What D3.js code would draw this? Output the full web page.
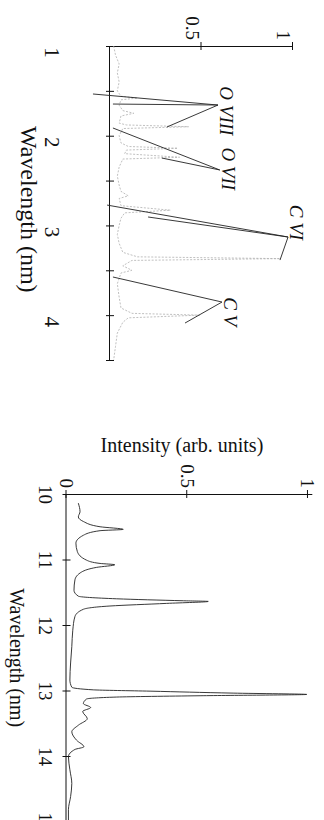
<!DOCTYPE html>
<html>
<head>
<meta charset="utf-8">
<script src="https://cdn.jsdelivr.net/npm/d3@7/dist/d3.min.js"></script>
<style>
  body { margin: 0; background: #fff; }
  svg { display: block; }
  text { font-family: "Liberation Serif", "Times New Roman", serif; fill: #111; }
</style>
</head>
<body>
<svg id="fig" width="324" height="820"></svg>
<script>
// ---- top panel: 1 - 4.5 nm spectrum ----
const softWl  = [1.00,1.10,1.20,1.30,1.40,1.50,1.56,1.58,1.60,1.66,1.72,1.75,1.78,1.86,1.88,1.90,1.92,2.00,2.08,2.12,2.14,2.16,2.20,2.24,2.26,2.35,2.45,2.55,2.62,2.67,2.70,2.78,2.83,2.86,2.92,3.00,3.10,3.20,3.30,3.35,3.37,3.39,3.45,3.50,3.53,3.65,3.80,3.92,3.98,4.00,4.03,4.08,4.20,4.35,4.50];
const softInt = [0.02,0.03,0.05,0.04,0.05,0.04,0.06,0.15,0.06,0.05,0.07,0.13,0.06,0.05,0.09,0.43,0.07,0.05,0.06,0.10,0.37,0.09,0.08,0.38,0.07,0.05,0.04,0.05,0.06,0.10,0.05,0.06,0.33,0.08,0.06,0.05,0.04,0.05,0.07,0.15,0.93,0.12,0.07,0.12,0.06,0.04,0.05,0.06,0.12,0.49,0.10,0.07,0.04,0.03,0.02];
const softTicks = [1, 1.5, 2, 2.5, 3, 3.5, 4, 4.5];
const softTickLabels = [1, 2, 3, 4];

// line identifications: label start [wl, intensity] and pointer lines to the peaks
const ionNames  = ["O VIII", "O VII", "C VI", "C V"];
const ionLabel  = [[1.45, 0.59], [2.13, 0.60], [2.77, 0.97], [3.80, 0.61]];
const ionTip    = [[1.658, 0.59], [2.382, 0.60], [3.129, 0.973], [3.854, 0.612]];
const ionTarget = [
  [[1.903, 0.311], [1.647, 0.016], [1.535, -0.093]],
  [[1.914, 0.016], [2.249, 0.284]],
  [[2.773, -0.016], [2.906, 0.208], [3.386, 0.929]],
  [[3.575, 0.016], [4.088, 0.41]]
];

// ---- bottom panel: 10 - 15 nm spectrum ----
const euvWl  = [10.14,10.27,10.35,10.42,10.50,10.54,10.56,10.63,10.75,10.88,11.01,11.06,11.08,11.12,11.19,11.31,11.47,11.56,11.60,11.63,11.64,11.67,11.71,11.76,11.87,12.08,12.33,12.58,12.84,12.95,12.99,13.01,13.04,13.06,13.08,13.10,13.13,13.20,13.26,13.32,13.43,13.53,13.63,13.76,13.86,13.90,14.01,14.21,14.42,14.62,14.82,14.98];
const euvInt = [0.049,0.056,0.049,0.070,0.139,0.235,0.139,0.070,0.039,0.045,0.083,0.139,0.200,0.125,0.063,0.035,0.031,0.049,0.208,0.484,0.587,0.415,0.180,0.070,0.035,0.026,0.022,0.017,0.014,0.022,0.111,0.346,0.690,0.995,0.553,0.208,0.083,0.070,0.100,0.067,0.086,0.049,0.022,0.042,0.072,0.035,0.008,0.014,0.022,0.017,0.008,0.008];
const euvTicks = [10, 11, 12, 13, 14, 15];
const intTicks = [0, 0.5, 1];

const svg = d3.select("#fig");
svg.append("rect").attr("width", 324).attr("height", 820).attr("fill", "#fff");

// each panel is drawn as a normal chart and turned 90 degrees clockwise
function crossTicks(g, vertical) {
  g.selectAll(".tick line").attr(vertical ? "y1" : "x1", -4).attr(vertical ? "y2" : "x2", 4)
    .attr("stroke", "#111");
  g.select(".domain").attr("stroke", "#111").attr("stroke-width", 1);
}

// top panel
const topX = d3.scaleLinear().domain([1, 4.5]).range([0, 314]);
const topY = d3.scaleLinear().domain([0, 1]).range([0, -183]);
const topG = svg.append("g").attr("transform", "translate(110,46) rotate(90)");

const topXAxis = topG.append("g")
  .call(d3.axisBottom(topX).tickValues(softTicks).tickSizeOuter(0)
    .tickFormat(d => softTickLabels.includes(d) ? d : ""));
crossTicks(topXAxis, true);
topXAxis.selectAll("text").attr("y", 65).attr("dy", 0).attr("x", 6)
  .style("font-size", "21px").style("font-family", "Liberation Serif");

const topYAxis = topG.append("g")
  .call(d3.axisLeft(topY).tickValues([0.5, 1]).tickSizeOuter(0).tickFormat(d3.format("")));
crossTicks(topYAxis, false);
topYAxis.selectAll("text").attr("x", -6).attr("dy", "0.32em")
  .attr("transform", "translate(0,9)")
  .style("font-size", "19px").style("font-family", "Liberation Serif");

topG.append("text")
  .attr("x", topX(2.82)).attr("y", 89)
  .attr("text-anchor", "middle")
  .style("font-size", "24px")
  .text("Wavelength (nm)");

const softData = softWl.map((w, i) => [w, softInt[i]]);
topG.append("path")
  .datum(softData)
  .attr("fill", "none")
  .attr("stroke", "#b0b0b0")
  .attr("stroke-width", 0.8)
  .attr("stroke-dasharray", "2,1.5")
  .attr("d", d3.line().x(d => topX(d[0])).y(d => topY(d[1])));

ionNames.forEach((name, i) => {
  ionTarget[i].forEach(t => {
    topG.append("line")
      .attr("x1", topX(ionTip[i][0])).attr("y1", topY(ionTip[i][1]))
      .attr("x2", topX(t[0])).attr("y2", topY(t[1]))
      .attr("stroke", "#222").attr("stroke-width", 0.9);
  });
  topG.append("text")
    .attr("x", topX(ionLabel[i][0])).attr("y", topY(ionLabel[i][1]) - 2)
    .style("font-size", "19px").style("font-style", "italic")
    .text(name);
});

// bottom panel
const botX = d3.scaleLinear().domain([10, 15]).range([0, 327.5]);
const botY = d3.scaleLinear().domain([0, 1.02]).range([0, -246.3]);
const botG = svg.append("g").attr("transform", "translate(66.5,494) rotate(90)");

const botXAxis = botG.append("g")
  .call(d3.axisBottom(botX).tickValues(euvTicks).tickSizeOuter(0).tickFormat(d3.format("d")));
crossTicks(botXAxis, true);
botXAxis.selectAll("text").attr("y", 27.5).attr("dy", 0)
  .style("font-size", "19px").style("font-family", "Liberation Serif");

const botYAxis = botG.append("g")
  .call(d3.axisLeft(botY).tickValues(intTicks).tickSizeOuter(0).tickFormat(d3.format("")));
crossTicks(botYAxis, false);
botYAxis.selectAll("text").attr("x", -6).attr("dy", "0.32em")
  .style("font-size", "19px").style("font-family", "Liberation Serif");

botG.append("text")
  .attr("x", botX(12.5)).attr("y", 56.5)
  .attr("text-anchor", "middle")
  .style("font-size", "20px")
  .text("Wavelength (nm)");

const euvData = euvWl.map((w, i) => [w, euvInt[i]]);
botG.append("path")
  .datum(euvData)
  .attr("fill", "none")
  .attr("stroke", "#222")
  .attr("stroke-width", 0.9)
  .attr("d", d3.line().curve(d3.curveMonotoneX).x(d => botX(d[0])).y(d => botY(d[1])));

// intensity title reads horizontally once the panel is turned
svg.append("text")
  .attr("x", 66.5 - botY(0.478)).attr("y", 452)
  .attr("text-anchor", "middle")
  .style("font-size", "20px")
  .text("Intensity (arb. units)");
</script>
</body>
</html>
